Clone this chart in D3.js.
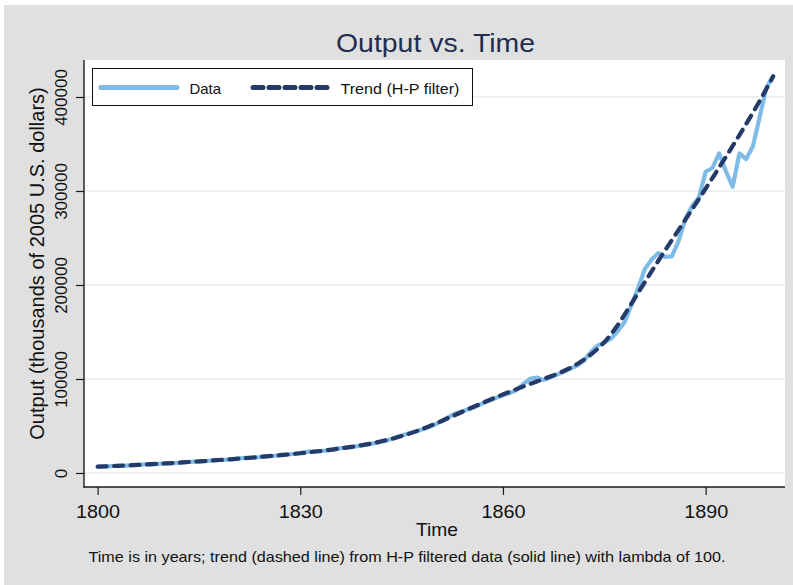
<!DOCTYPE html>
<html>
<head>
<meta charset="utf-8">
<script src="https://cdn.jsdelivr.net/npm/d3@7/dist/d3.min.js"></script>
<style>
  html, body { margin: 0; padding: 0; background: #ffffff; }
  svg { display: block; }
  text { font-family: "Liberation Sans", Arial, sans-serif; }
</style>
</head>
<body>
<svg id="chart" width="793" height="585"></svg>
<script>
// Annual output, 1800-1900 (thousands of 2005 U.S. dollars)
const years = d3.range(1800, 1901);

const output = [
  6600, 6900, 7300, 7700, 7800, 8200, 8700, 9100, 9200, 9700,
  10300, 10500, 10800, 11600, 12000, 12200, 12700, 13400, 13900, 14100,
  14600, 15500, 16100, 16300, 16900, 17800, 18200, 18800, 19700, 20200,
  21300, 22500, 23000, 23200, 24000, 25400, 26400, 27000, 28000, 29300,
  30500, 31800, 33200, 35000, 37300, 39900, 42000, 43800, 46200, 48800,
  51800, 55200, 59800, 63400, 65800, 68000, 70800, 74000, 77200, 80000,
  82600, 84900, 88200, 94500, 100200, 101500, 99000, 101500, 104600, 107900,
  111200, 114200, 119600, 128800, 135500, 138800, 143000, 151000, 160500, 178500,
  196500, 217000, 227000, 234000, 230000, 230500, 247000, 270000, 284000, 293000,
  320500, 324500, 340000, 321000, 304500, 340000, 334000, 347500, 379000, 410000,
  422000
];

// Hodrick-Prescott trend (lambda = 100)
const trend = [
  6700, 7000, 7300, 7600, 7900, 8300, 8600, 9000, 9400, 9800,
  10200, 10600, 11000, 11500, 11900, 12400, 12800, 13300, 13800, 14300,
  14800, 15400, 15900, 16500, 17100, 17700, 18300, 19000, 19600, 20300,
  21000, 21800, 22600, 23400, 24300, 25200, 26200, 27200, 28300, 29400,
  30700, 32100, 33700, 35400, 37200, 39300, 41500, 44000, 46700, 49500,
  52500, 55600, 58800, 62000, 65200, 68400, 71500, 74600, 77700, 80700,
  83600, 86400, 89200, 92000, 94700, 97300, 99900, 102600, 105400, 108500,
  112000, 116000, 120700, 126000, 132000, 139000, 147500, 157500, 168500, 180000,
  191500, 203000, 214500, 225800, 236800, 247700, 258600, 269500, 280500, 291500,
  302500, 313700, 325000, 336400, 347900, 359500, 371300, 383300, 395800, 408800,
  422000
];

const xTicks = [1800, 1830, 1860, 1890];
const yTicks = [0, 100000, 200000, 300000, 400000];

const titleText = "Output vs. Time";
const xTitle = "Time";
const yTitle = "Output (thousands of 2005 U.S. dollars)";
const noteText = "Time is in years; trend (dashed line) from H-P filtered data (solid line) with lambda of 100.";
const legendLabels = ["Data", "Trend (H-P filter)"];

const dataColor = "#7fbbe7";
const trendColor = "#243a68";
const bgGray = "#e0e0e0";
const gridColor = "#e7eef2";
const dashPattern = "9,7.5";

const svg = d3.select("#chart");

// graph background
svg.append("rect").attr("x", 4).attr("y", 5).attr("width", 789).attr("height", 580).attr("fill", bgGray);

// plot region
const plot = { left: 84, right: 785, top: 60, bottom: 487 };
svg.append("rect")
  .attr("x", plot.left).attr("y", plot.top)
  .attr("width", plot.right - plot.left).attr("height", plot.bottom - plot.top)
  .attr("fill", "#ffffff");

const x = d3.scaleLinear().domain([1800, 1900]).range([97.6, 773.2]);
const y = d3.scaleLinear().domain([0, 400000]).range([473, 97]);

// gridlines
svg.append("g").selectAll("line").data(yTicks).join("line")
  .attr("x1", plot.left).attr("x2", plot.right)
  .attr("y1", d => y(d)).attr("y2", d => y(d))
  .attr("stroke", gridColor).attr("stroke-width", 1.6);

// y axis
const yAxis = svg.append("g")
  .attr("transform", `translate(${plot.left},0)`)
  .call(d3.axisLeft(y).tickValues(yTicks).tickSize(8).tickSizeOuter(0).tickFormat(d3.format("d")));
yAxis.select(".domain").remove();
yAxis.append("line").attr("x1", 0).attr("x2", 0).attr("y1", plot.top).attr("y2", plot.bottom + 0.5)
  .attr("stroke", "#1a1a1a").attr("stroke-width", 1.4);
yAxis.selectAll(".tick line").attr("stroke", "#1a1a1a").attr("stroke-width", 1.2);
yAxis.selectAll(".tick text")
  .attr("x", null).attr("dy", null)
  .attr("transform", "translate(-17.5,0) rotate(-90)")
  .attr("text-anchor", "middle")
  .attr("font-size", 17)
  .attr("fill", "#111");

// x axis
const xAxis = svg.append("g")
  .attr("transform", `translate(0,${plot.bottom})`)
  .call(d3.axisBottom(x).tickValues(xTicks).tickSize(8).tickSizeOuter(0).tickFormat(d3.format("d")));
xAxis.select(".domain").remove();
xAxis.append("line").attr("x1", plot.left - 0.7).attr("x2", plot.right).attr("y1", 0).attr("y2", 0)
  .attr("stroke", "#1a1a1a").attr("stroke-width", 1.4);
xAxis.selectAll(".tick line").attr("stroke", "#1a1a1a").attr("stroke-width", 1.2);
xAxis.selectAll(".tick text")
  .attr("y", 31).attr("dy", null)
  .attr("font-size", 18.5)
  .attr("textLength", 44).attr("lengthAdjust", "spacingAndGlyphs")
  .attr("fill", "#111");

// series
const series = years.map((yr, i) => ({ yr, v: output[i], t: trend[i] }));

svg.append("path").datum(series)
  .attr("fill", "none").attr("stroke", dataColor).attr("stroke-width", 4.2)
  .attr("stroke-linejoin", "round")
  .attr("d", d3.line().x(d => x(d.yr)).y(d => y(d.v)));

svg.append("path").datum(series)
  .attr("fill", "none").attr("stroke", trendColor).attr("stroke-width", 4.2)
  .attr("stroke-linecap", "round").attr("stroke-dasharray", dashPattern)
  .attr("d", d3.line().x(d => x(d.yr)).y(d => y(d.t)));

// title
svg.append("text").attr("x", 435.5).attr("y", 51.5)
  .attr("text-anchor", "middle").attr("font-size", 25.5).attr("fill", "#1e2e50")
  .attr("textLength", 199).attr("lengthAdjust", "spacingAndGlyphs")
  .text(titleText);

// axis titles
svg.append("text").attr("x", 437).attr("y", 535.5)
  .attr("text-anchor", "middle").attr("font-size", 18.5).attr("fill", "#111")
  .attr("textLength", 42).attr("lengthAdjust", "spacingAndGlyphs")
  .text(xTitle);

svg.append("text")
  .attr("transform", "translate(44.3,263.5) rotate(-90)")
  .attr("text-anchor", "middle").attr("font-size", 20).attr("fill", "#111")
  .text(yTitle);

// note
svg.append("text").attr("x", 407).attr("y", 561.5)
  .attr("text-anchor", "middle").attr("font-size", 14.3).attr("fill", "#111")
  .attr("textLength", 637).attr("lengthAdjust", "spacingAndGlyphs")
  .text(noteText);

// legend
const lg = svg.append("g");
lg.append("rect").attr("x", 92.5).attr("y", 68.5).attr("width", 380).attr("height", 37)
  .attr("fill", "#ffffff").attr("stroke", "#111").attr("stroke-width", 1);
lg.append("line").attr("x1", 101).attr("x2", 177).attr("y1", 87.5).attr("y2", 87.5)
  .attr("stroke", dataColor).attr("stroke-width", 5).attr("stroke-linecap", "round");
lg.append("line").attr("x1", 253).attr("x2", 329).attr("y1", 87.5).attr("y2", 87.5)
  .attr("stroke", trendColor).attr("stroke-width", 5)
  .attr("stroke-linecap", "round").attr("stroke-dasharray", "10,6");
lg.append("text").attr("x", 189.5).attr("y", 93.5).attr("font-size", 14.5).attr("fill", "#111")
  .attr("textLength", 31.5).attr("lengthAdjust", "spacingAndGlyphs").text(legendLabels[0]);
lg.append("text").attr("x", 340.5).attr("y", 93.5).attr("font-size", 14.5).attr("fill", "#111")
  .attr("textLength", 119).attr("lengthAdjust", "spacingAndGlyphs").text(legendLabels[1]);
</script>
</body>
</html>
